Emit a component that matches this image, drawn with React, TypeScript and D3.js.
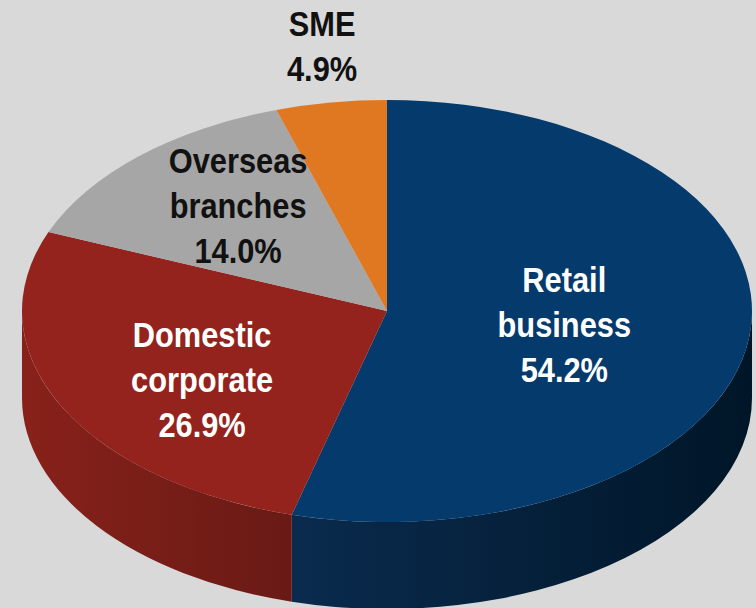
import React from "react";
import * as d3 from "d3";

const categories = ["Retail business", "Domestic corporate", "Overseas branches", "SME"];
const values = [54.2, 26.9, 14.0, 4.9];
const topColors = ["#053a6c", "#93231c", "#a6a6a6", "#e07822"];
const sideLight = ["#0a2b4e", "#88211a", "#8a8a8a", "#b8611a"];
const sideDark = ["#001628", "#691a15", "#6e6e6e", "#9a5015"];
const textColors = ["#ffffff", "#ffffff", "#111111", "#111111"];
// label placement factors (fraction of radii along mid angle)
const labelK = [
  [0.49, 0.47],
  [0.566, 0.73],
  [0.6, 0.68],
  [1.16, 1.27],
];

const W = 756;
const H = 608;
const cx = 387;
const cy = 311;
const rx = 365;
const ry = 211;
const depth = 87;
const fontSize = 35;
const lineH = 45;
const narrow = 0.88;

const pt = (a: number, dy = 0): [number, number] => [cx + rx * Math.sin(a), cy - ry * Math.cos(a) + dy];

export default function App() {
  const pie = d3.pie<number>().sort(null).value((d) => d);
  const arcs = pie(values);

  const topPath = (a0: number, a1: number) => {
    const p0 = pt(a0);
    const p1 = pt(a1);
    const large = a1 - a0 > Math.PI ? 1 : 0;
    return `M${cx},${cy}L${p0[0]},${p0[1]}A${rx},${ry} 0 ${large} 1 ${p1[0]},${p1[1]}Z`;
  };

  const sidePath = (a0: number, a1: number) => {
    const s = Math.max(a0, Math.PI / 2);
    const e = Math.min(a1, (3 * Math.PI) / 2);
    if (e <= s) return null;
    const p0 = pt(s);
    const p1 = pt(e);
    const q1 = pt(e, depth);
    const q0 = pt(s, depth);
    return {
      d: `M${p0[0]},${p0[1]}A${rx},${ry} 0 0 1 ${p1[0]},${p1[1]}L${q1[0]},${q1[1]}A${rx},${ry} 0 0 0 ${q0[0]},${q0[1]}Z`,
      x0: Math.min(p0[0], p1[0]),
      x1: Math.max(p0[0], p1[0]),
    };
  };

  return (
    <svg
      width={W}
      height={H}
      style={{ position: "absolute", left: 0, top: 0, display: "block" }}
      fontFamily="'Liberation Sans', Arial, sans-serif"
    >
      <rect x={0} y={0} width={W} height={H} fill="#d9d9d9" />
      <defs>
        {arcs.map((a, i) => {
          const s = sidePath(a.startAngle, a.endAngle);
          if (!s) return null;
          return (
            <linearGradient key={i} id={`side${i}`} gradientUnits="userSpaceOnUse" x1={s.x0} y1={0} x2={s.x1} y2={0}>
              <stop offset="0" stopColor={sideLight[i]} />
              <stop offset="1" stopColor={sideDark[i]} />
            </linearGradient>
          );
        })}
      </defs>
      {arcs.map((a, i) => {
        const s = sidePath(a.startAngle, a.endAngle);
        return s ? <path key={`s${i}`} d={s.d} fill={`url(#side${i})`} /> : null;
      })}
      {arcs.map((a, i) => (
        <path key={`t${i}`} d={topPath(a.startAngle, a.endAngle)} fill={topColors[i]} />
      ))}
      {arcs.map((a, i) => {
        const mid = (a.startAngle + a.endAngle) / 2;
        const lx = cx + labelK[i][0] * rx * Math.sin(mid);
        const ly = cy - labelK[i][1] * ry * Math.cos(mid);
        const lines = [...categories[i].split(" "), `${values[i].toFixed(1)}%`];
        const first = ly - ((lines.length - 1) * lineH) / 2 + fontSize * 0.36;
        return (
          <text
            key={`l${i}`}
            transform={`translate(${lx},0) scale(${narrow},1)`}
            x={0}
            y={first}
            textAnchor="middle"
            fontSize={fontSize}
            fontWeight="bold"
            fill={textColors[i]}
          >
            {lines.map((ln, j) => (
              <tspan key={j} x={0} y={first + j * lineH}>
                {ln}
              </tspan>
            ))}
          </text>
        );
      })}
    </svg>
  );
}
